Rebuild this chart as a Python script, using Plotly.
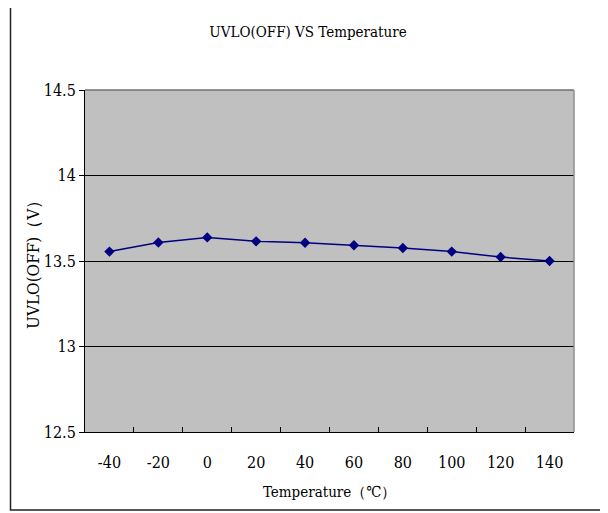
import plotly.graph_objects as go

temps = ["-40", "-20", "0", "20", "40", "60", "80", "100", "120", "140"]
uvlo_off = [13.555, 13.608, 13.638, 13.615, 13.607, 13.592, 13.576, 13.555, 13.523, 13.500]
y_ticks = [12.5, 13, 13.5, 14, 14.5]
y_tick_text = ["12.5", "13", "13.5", "14", "14.5"]

FONT = "DejaVu Serif Condensed, DejaVu Serif, Liberation Serif, serif"
OFF = 8  # page body margin
W, H = 608 - OFF, 513 - OFF
PL, PR, PT, PB = 85 - OFF, 574 - OFF, 90 - OFF, 432 - OFF
PW, PH = PR - PL, PB - PT

def px(x):
    return (x - OFF - PL) / PW

def py(y):
    return (PB - (y - OFF)) / PH

fig = go.Figure()
fig.add_trace(go.Scatter(
    x=temps, y=uvlo_off, mode="lines+markers",
    line=dict(color="#000080", width=1.5),
    marker=dict(symbol="diamond", size=8, color="#000080"),
    showlegend=False,
))

fig.update_layout(
    width=W, height=H,
    margin=dict(l=PL, r=W - PR, t=PT, b=H - PB),
    paper_bgcolor="white", plot_bgcolor="#C0C0C0",
    font=dict(family=FONT, size=15, color="black"),
    title=dict(text="UVLO(OFF) VS Temperature", x=0.5, xanchor="center",
               y=1 - (32 - OFF) / H, yanchor="middle", yref="container",
               font=dict(family=FONT, size=15, color="black")),
    xaxis=dict(type="category", range=[-0.5, len(temps) - 0.5],
               tickson="boundaries", ticks="inside", ticklen=5,
               tickcolor="black", showline=True, linecolor="black", linewidth=1,
               showgrid=False, ticklabelstandoff=16,
               tickfont=dict(family=FONT, size=16)),
    yaxis=dict(range=[12.5, 14.5], tickvals=y_ticks, ticktext=y_tick_text,
               ticks="outside", ticklen=5, tickcolor="black",
               showline=True, linecolor="black", linewidth=1,
               showgrid=True, gridcolor="black", gridwidth=1, zeroline=False,
               tickfont=dict(family=FONT, size=16)),
    shapes=[
        dict(type="line", xref="paper", yref="paper", x0=0, x1=1, y0=1, y1=1,
             line=dict(color="#707070", width=1.5), layer="above"),
        dict(type="line", xref="paper", yref="paper", x0=1, x1=1, y0=0, y1=1,
             line=dict(color="#909090", width=1.5), layer="above"),
        dict(type="rect", xref="paper", yref="paper",
             x0=px(10.5), x1=px(604.5), y0=py(510), y1=py(4.7),
             line=dict(color="#222222", width=1.5), fillcolor="rgba(0,0,0,0)", layer="above"),
    ],
    annotations=[
        dict(text="Temperature（℃）", xref="paper", yref="paper", x=0.5,
             y=py(492), xanchor="center", yanchor="middle", showarrow=False,
             font=dict(family=FONT, size=15)),
        dict(text="UVLO(OFF)（V）", xref="paper", yref="paper", x=px(33),
             y=0.5, xanchor="center", yanchor="middle", showarrow=False, textangle=-90,
             font=dict(family=FONT, size=17)),
    ],
)

fig.write_html("out.html")
